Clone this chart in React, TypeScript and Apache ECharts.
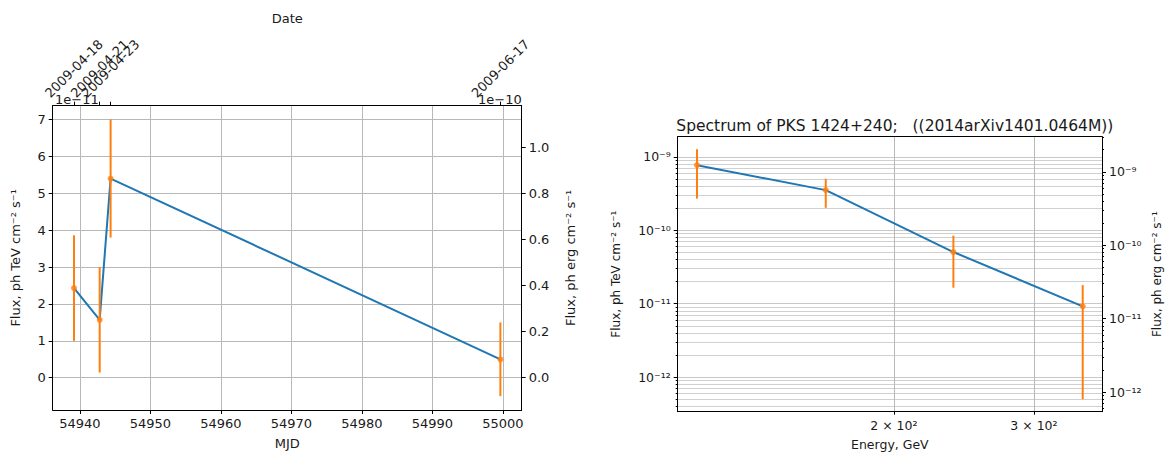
import React, { useEffect, useRef } from 'react';
import * as echarts from 'echarts';

// ---------- Left panel: light curve ----------
const mjd = [54939.16, 54942.8, 54944.35, 54999.65];
const dateLabels = ['2009-04-18', '2009-04-21', '2009-04-23', '2009-06-17'];
const fluxE11 = [2.43, 1.57, 5.4, 0.5]; // x 1e-11 ph TeV cm-2 s-1
const fluxErrE11 = [1.43, 1.43, 1.6, 1.0];
const mjdTicks = [54940, 54950, 54960, 54970, 54980, 54990, 55000];
const fluxTicks = [0, 1, 2, 3, 4, 5, 6, 7];
const ergTicks = [0, 0.2, 0.4, 0.6, 0.8, 1.0]; // x 1e-10 ph erg cm-2 s-1
const TEV_TO_ERG = 1.602;

// ---------- Right panel: spectrum ----------
const energyGeV = [113.1, 164.2, 237.6, 345.5];
const specFlux = [7.7e-10, 3.52e-10, 5.05e-11, 9.2e-12];
const specErr = [5.0e-10, 1.5e-10, 3.4e-11, 8.7e-12];
const energyTicks = [200, 300];
const energyTickLabels = ['2 × 10²', '3 × 10²'];
const decadeTicks = [-12, -11, -10, -9];
const decadeLabels = ['10⁻¹²', '10⁻¹¹', '10⁻¹⁰', '10⁻⁹'];
const minorMantissas = [2, 3, 4, 5, 6, 7, 8, 9];

const BLUE = '#1f77b4';
const ORANGE = '#ff7f0e';
const TXT = '#1a1a1a';
const FONT = 'DejaVu Sans';

function pad(lo: number, hi: number): [number, number] {
  const m = (hi - lo) * 0.05;
  return [lo - m, hi + m];
}

function nearestIdx(arr: number[], v: number) {
  let best = 0;
  for (let i = 1; i < arr.length; i++) if (Math.abs(arr[i] - v) < Math.abs(arr[best] - v)) best = i;
  return best;
}

function minorsFor(lo: number, hi: number) {
  const out: number[] = [];
  for (let k = Math.floor(lo) - 1; k <= Math.ceil(hi); k++) {
    for (const m of minorMantissas) {
      const v = k + Math.log10(m);
      if (v >= lo && v <= hi) out.push(v);
    }
  }
  return out;
}

function errBarRender(params: any, api: any) {
  const x = api.value(0);
  const a = api.coord([x, api.value(2)]);
  const b = api.coord([x, api.value(3)]);
  return {
    type: 'line',
    shape: { x1: a[0], y1: a[1], x2: b[0], y2: b[1] },
    style: { stroke: ORANGE, lineWidth: 2 },
  };
}

function buildOption() {
  // left ranges
  const [lx0, lx1] = pad(Math.min(...mjd), Math.max(...mjd));
  const lows = fluxE11.map((f, i) => f - fluxErrE11[i]);
  const highs = fluxE11.map((f, i) => f + fluxErrE11[i]);
  const [ly0, ly1] = pad(Math.min(...lows), Math.max(...highs));
  const ergScale = TEV_TO_ERG / 10;

  // right ranges (log space)
  const logE = energyGeV.map((e) => Math.log10(e));
  const [rx0, rx1] = pad(Math.min(...logE), Math.max(...logE));
  const sLo = specFlux.map((f, i) => Math.log10(f - specErr[i]));
  const sHi = specFlux.map((f, i) => Math.log10(f + specErr[i]));
  const [ry0, ry1] = pad(Math.min(...sLo), Math.max(...sHi));
  const ergShift = Math.log10(TEV_TO_ERG);
  const eTickLog = energyTicks.map((e) => Math.log10(e));

  const axisLine = { show: true, onZero: false, lineStyle: { color: '#000', width: 1 } };
  const tick = (vals: number[], len = 4) => ({
    show: true,
    length: len,
    customValues: vals,
    lineStyle: { color: '#000', width: 1 },
  });
  const nameStyle = (fs: number) => ({ fontSize: fs, color: TXT, fontFamily: FONT });

  return {
    animation: false,
    backgroundColor: '#fff',
    textStyle: { fontFamily: FONT },
    title: {
      text: 'Spectrum of PKS 1424+240;   ((2014arXiv1401.0464M))',
      left: 889.85,
      top: 113,
      textAlign: 'center',
      textStyle: { fontSize: 15.5, fontWeight: 'normal', color: TXT, fontFamily: FONT },
    },
    grid: [
      { left: 52.7, top: 105.7, width: 469, height: 304.3, containLabel: false, outerBoundsMode: 'none' },
      { left: 677.7, top: 136.7, width: 424.3, height: 275, containLabel: false, outerBoundsMode: 'none' },
    ],
    xAxis: [
      {
        gridIndex: 0, type: 'value', position: 'bottom', min: lx0, max: lx1,
        axisLine, axisTick: tick(mjdTicks),
        axisLabel: { customValues: mjdTicks, margin: 7, fontSize: 13, color: TXT, formatter: (v: number) => String(Math.round(v)) },
        splitLine: { show: true, lineStyle: { color: '#b8b8b8', width: 1 } },
        name: 'MJD', nameLocation: 'middle', nameGap: 27, nameMoveOverlap: false, nameTextStyle: nameStyle(13),
      },
      {
        gridIndex: 0, type: 'value', position: 'top', min: lx0, max: lx1,
        axisLine, axisTick: tick(mjd),
        axisLabel: {
          customValues: mjd, rotate: -45, align: 'center', verticalAlign: 'middle', margin: 37,
          fontSize: 13, color: TXT, formatter: (v: number) => dateLabels[nearestIdx(mjd, v)],
        },
        splitLine: { show: false },
        name: 'Date', nameLocation: 'middle', nameGap: 81, nameMoveOverlap: false, nameTextStyle: nameStyle(13),
      },
      {
        gridIndex: 1, type: 'value', position: 'bottom', min: rx0, max: rx1,
        axisLine, axisTick: tick(eTickLog, 3),
        axisLabel: {
          customValues: eTickLog, margin: 7, fontSize: 12.5, color: TXT,
          formatter: (v: number) => energyTickLabels[nearestIdx(eTickLog, v)],
        },
        splitLine: { show: true, lineStyle: { color: '#b8b8b8', width: 1 } },
        name: 'Energy, GeV', nameLocation: 'middle', nameGap: 26, nameMoveOverlap: false, nameTextStyle: nameStyle(12.5),
      },
      {
        gridIndex: 1, type: 'value', position: 'top', min: rx0, max: rx1,
        axisLine, axisTick: { show: false }, axisLabel: { show: false }, splitLine: { show: false },
      },
    ],
    yAxis: [
      {
        gridIndex: 0, type: 'value', position: 'left', min: ly0, max: ly1,
        axisLine, axisTick: tick(fluxTicks),
        axisLabel: { customValues: fluxTicks, margin: 7, fontSize: 13, color: TXT, formatter: (v: number) => String(Math.round(v)) },
        splitLine: { show: true, lineStyle: { color: '#b8b8b8', width: 1 } },
        name: 'Flux, ph TeV cm⁻² s⁻¹', nameLocation: 'middle', nameGap: 31, nameRotate: 90, nameMoveOverlap: false,
        nameTextStyle: nameStyle(13),
      },
      {
        gridIndex: 0, type: 'value', position: 'right', min: ly0 * ergScale, max: ly1 * ergScale,
        axisLine, axisTick: tick(ergTicks),
        axisLabel: { customValues: ergTicks, margin: 7, fontSize: 13, color: TXT, formatter: (v: number) => v.toFixed(1) },
        splitLine: { show: false },
        name: 'Flux, ph erg cm⁻² s⁻¹', nameLocation: 'middle', nameGap: 42, nameRotate: 90, nameMoveOverlap: false,
        nameTextStyle: nameStyle(13),
      },
      {
        gridIndex: 1, type: 'value', position: 'left', min: ry0, max: ry1,
        axisLine, axisTick: tick(decadeTicks),
        axisLabel: {
          customValues: decadeTicks, margin: 7, fontSize: 12.5, color: TXT,
          formatter: (v: number) => decadeLabels[nearestIdx(decadeTicks, v)],
        },
        splitLine: { show: true, lineStyle: { color: '#c8c8c8', width: 1 } },
        name: 'Flux, ph TeV cm⁻² s⁻¹', nameLocation: 'middle', nameGap: 56, nameRotate: 90, nameMoveOverlap: false,
        nameTextStyle: nameStyle(12),
      },
      {
        gridIndex: 1, type: 'value', position: 'left', min: ry0, max: ry1,
        axisLine: { show: false }, axisTick: tick(minorsFor(ry0, ry1), 2), axisLabel: { show: false },
        splitLine: { show: true, lineStyle: { color: '#d0d0d0', width: 1 } },
      },
      {
        gridIndex: 1, type: 'value', position: 'right', min: ry0 + ergShift, max: ry1 + ergShift,
        axisLine, axisTick: tick(decadeTicks),
        axisLabel: {
          customValues: decadeTicks, margin: 7, fontSize: 12.5, color: TXT,
          formatter: (v: number) => decadeLabels[nearestIdx(decadeTicks, v)],
        },
        splitLine: { show: false },
        name: 'Flux, ph erg cm⁻² s⁻¹', nameLocation: 'middle', nameGap: 49, nameRotate: 90, nameMoveOverlap: false,
        nameTextStyle: nameStyle(12),
      },
      {
        gridIndex: 1, type: 'value', position: 'right', min: ry0 + ergShift, max: ry1 + ergShift,
        axisLine: { show: false }, axisTick: tick(minorsFor(ry0 + ergShift, ry1 + ergShift), 2),
        axisLabel: { show: false }, splitLine: { show: false },
      },
    ],
    graphic: [
      { type: 'text', left: 55, top: 93, style: { text: '1e−11', fontSize: 13, fill: TXT, fontFamily: FONT } },
      { type: 'text', right: 1175 - 521.7, top: 93, style: { text: '1e−10', fontSize: 13, fill: TXT, fontFamily: FONT } },
    ],
    series: [
      {
        type: 'line', xAxisIndex: 0, yAxisIndex: 0, showSymbol: false, silent: true,
        data: mjd.map((x, i) => [x, fluxE11[i]]),
        lineStyle: { color: BLUE, width: 2 }, z: 2,
      },
      {
        type: 'custom', xAxisIndex: 0, yAxisIndex: 0, silent: true, z: 3,
        data: mjd.map((x, i) => [x, fluxE11[i], lows[i], highs[i]]),
        encode: { x: 0, y: 1 },
        renderItem: errBarRender,
      },
      {
        type: 'scatter', xAxisIndex: 0, yAxisIndex: 0, silent: true, z: 4,
        symbolSize: 6, itemStyle: { color: ORANGE },
        data: mjd.map((x, i) => [x, fluxE11[i]]),
      },
      {
        type: 'line', xAxisIndex: 2, yAxisIndex: 2, showSymbol: false, silent: true,
        data: logE.map((x, i) => [x, Math.log10(specFlux[i])]),
        lineStyle: { color: BLUE, width: 2 }, z: 2,
      },
      {
        type: 'custom', xAxisIndex: 2, yAxisIndex: 2, silent: true, z: 3,
        data: logE.map((x, i) => [x, Math.log10(specFlux[i]), sLo[i], sHi[i]]),
        encode: { x: 0, y: 1 },
        renderItem: errBarRender,
      },
      {
        type: 'scatter', xAxisIndex: 2, yAxisIndex: 2, silent: true, z: 4,
        symbolSize: 6, itemStyle: { color: ORANGE },
        data: logE.map((x, i) => [x, Math.log10(specFlux[i])]),
      },
    ],
  };
}

export default function App() {
  const ref = useRef<HTMLDivElement>(null);
  useEffect(() => {
    const chart = echarts.init(ref.current!, null, { renderer: 'svg' });
    chart.setOption(buildOption() as any);
    return () => chart.dispose();
  }, []);
  return (
    <div
      ref={ref}
      style={{ position: 'fixed', left: 0, top: 0, width: 1175, height: 452, background: '#fff' }}
    />
  );
}
